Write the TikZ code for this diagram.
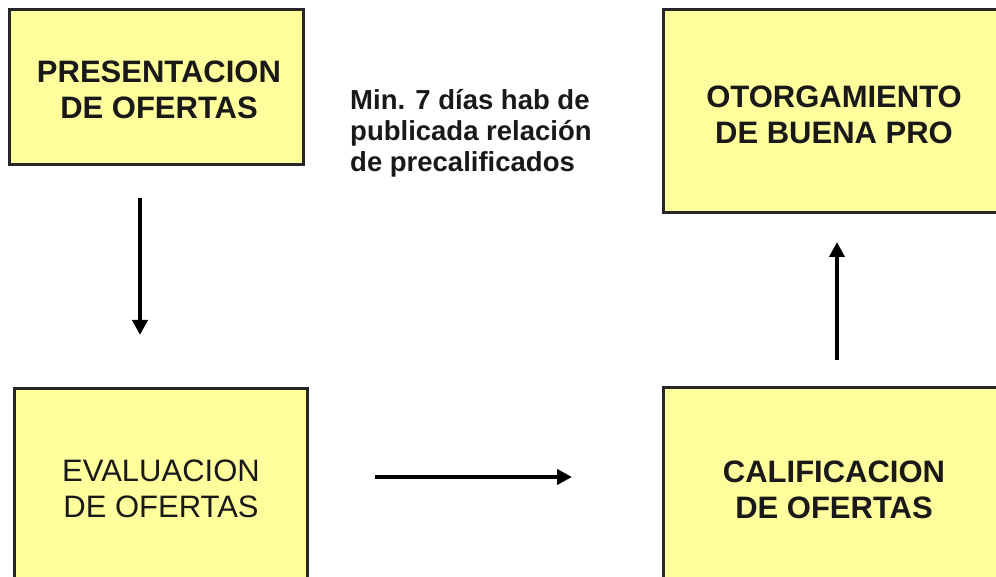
\documentclass[tikz,border=0pt]{standalone}
\usepackage{fontspec}
\setmainfont{Liberation Sans}
\usetikzlibrary{arrows.meta}
\definecolor{boxfill}{HTML}{FFFD9C}
\definecolor{boxline}{HTML}{262626}
\begin{document}
\begin{tikzpicture}[x=1pt,y=-1pt,
  box/.style={draw=boxline,line width=3pt,fill=boxfill,inner sep=0pt,anchor=center},
  boxtext/.style={align=center,inner sep=0pt,anchor=center,text=black!90,font=\fontsize{31}{36}\selectfont},
  arr/.style={line width=4.4pt,-{Triangle[length=15pt,width=15pt]}}]
\useasboundingbox (0,0) rectangle (996,577);
\fill[white] (0,0) rectangle (996,577);
\clip (0,0) rectangle (996,577);
% boxes
\node[box,minimum width=294pt,minimum height=155pt] (p) at (156,87.5) {};
\node[box,minimum width=342pt,minimum height=203pt] (o) at (834,111.5) {};
\node[box,minimum width=293pt,minimum height=212pt] (e) at (160.5,494) {};
\node[box,minimum width=342pt,minimum height=213pt] (c) at (834,493.5) {};
% texts
\node[boxtext,font=\fontsize{31}{36}\selectfont\bfseries] (pt) at (159,90) {PRESENTACION\\DE OFERTAS};
\node[boxtext,font=\fontsize{31}{36}\selectfont\bfseries] (ot) at (834,115) {OTORGAMIENTO\\DE BUENA PRO};
\node[boxtext] (et) at (161,489) {EVALUACION\\DE OFERTAS};
\node[boxtext,font=\fontsize{31}{36}\selectfont\bfseries] (ct) at (834,490) {CALIFICACION\\DE OFERTAS};
\node[align=left,inner sep=0pt,anchor=north west,text=black!90,font=\fontsize{27.5}{31}\selectfont\bfseries] (note) at (350,89) {Min. 7 días hab de\\publicada relación\\de precalificados};
% arrows
\coordinate (a1s) at (140,198);
\coordinate (a1e) at (140,335);
\coordinate (a2s) at (375,477);
\coordinate (a2e) at (572,477);
\coordinate (a3s) at (837,360);
\coordinate (a3e) at (837,242);
\draw[arr] (a1s) -- (a1e);
\draw[arr] (a2s) -- (a2e);
\draw[arr] (a3s) -- (a3e);
\end{tikzpicture}
\end{document}
